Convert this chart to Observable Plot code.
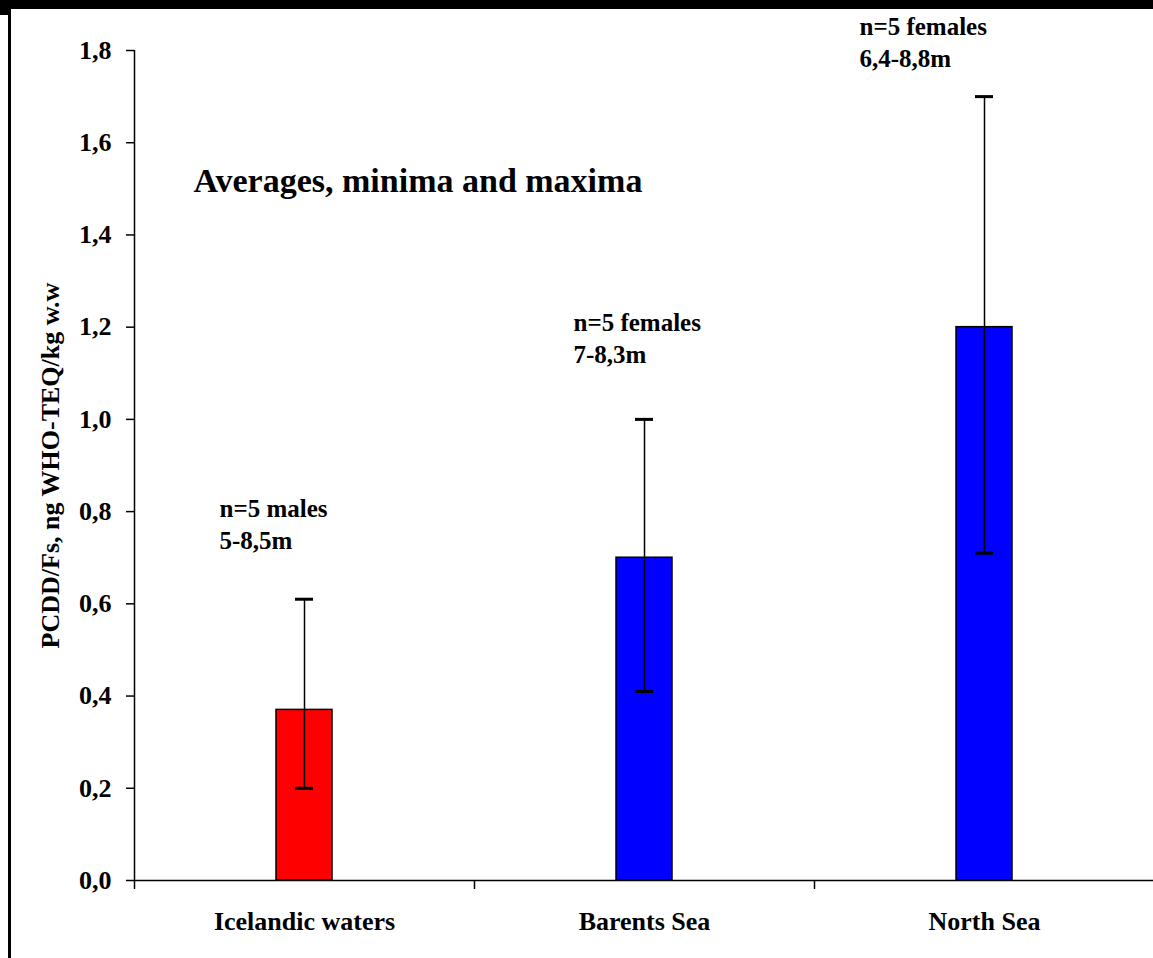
<!DOCTYPE html>
<html><head><meta charset="utf-8">
<script src="https://cdn.jsdelivr.net/npm/d3@7"></script>
<script src="https://cdn.jsdelivr.net/npm/@observablehq/plot@0.6"></script>
<style>
html,body{margin:0;padding:0;background:#fff;overflow:hidden}
#wrap{position:relative;width:1153px;height:958px}
#wrap svg{position:absolute;left:0;top:0}
.deco{position:absolute;background:#000}
</style></head><body>
<div id="wrap">
  <div class="deco" style="left:0;top:0;width:1153px;height:9px"></div>
  <div class="deco" style="left:0;top:9px;width:9px;height:6px"></div>
  <div class="deco" style="left:8px;top:0;width:3px;height:958px"></div>
</div>
<script>
const categories = ["Icelandic waters", "Barents Sea", "North Sea"];
const averages = [0.37, 0.70, 1.20];
const minima = [0.20, 0.41, 0.71];
const maxima = [0.61, 1.00, 1.70];
const barColors = ["#ff0000", "#0000ff", "#0000ff"];
const yTicks = [0, 0.2, 0.4, 0.6, 0.8, 1.0, 1.2, 1.4, 1.6, 1.8];
const noteLines = [["n=5 males", "5-8,5m"], ["n=5 females", "7-8,3m"], ["n=5 females", "6,4-8,8m"]];
const noteLevels = [0.72, 1.123, 1.765];
const title = "Averages, minima and maxima";
const yLabel = "PCDD/Fs, ng WHO-TEQ/kg w.w";

const rows = categories.map((c, i) => ({
  cat: c, avg: averages[i], min: minima[i], max: maxima[i],
  color: barColors[i], note: noteLines[i].join("\n"), level: noteLevels[i]
}));
const fmt = d => d.toFixed(1).replace(".", ",");
const FONT = "'Liberation Serif', 'Times New Roman', serif";
const noteDx = [-85, -71, -125];

const chart = Plot.plot({
  width: 1153, height: 958,
  marginLeft: 134, marginRight: 0, marginTop: 50, marginBottom: 78,
  style: {fontFamily: FONT, fontWeight: "bold", background: "transparent", color: "#000", overflow: "visible"},
  x: {domain: categories, range: [134, 1155], paddingInner: 0.835, paddingOuter: 0.4177, label: null},
  y: {domain: [0, 1.8], range: [880, 50], label: null},
  color: {type: "identity"},
  marks: [
    Plot.barY(rows, {x: "cat", y: "avg", fill: "color", stroke: "#000", strokeWidth: 1.5}),
    Plot.ruleX(rows, {x: "cat", y1: "min", y2: "max", stroke: "#000", strokeWidth: 1.5}),
    Plot.tickY(rows, {x: "cat", y: "min", stroke: "#000", strokeWidth: 3, insetLeft: 19, insetRight: 19}),
    Plot.tickY(rows, {x: "cat", y: "max", stroke: "#000", strokeWidth: 3, insetLeft: 19, insetRight: 19}),
    Plot.ruleY([0], {stroke: "#000", strokeWidth: 1.5}),
    Plot.ruleX([categories[0]], {x: d => d, y1: 0, y2: 1.8, dx: -170, stroke: "#000", strokeWidth: 1.5}),
    Plot.ruleX(categories, {x: d => d, y1: 0, y2: 0, dx: -170, insetBottom: -9, stroke: "#000", strokeWidth: 1.5}),
    Plot.axisY({ticks: yTicks, tickFormat: fmt, tickSize: 8, tickPadding: 15, fontSize: 26, fontWeight: "bold", strokeWidth: 1.5}),
    Plot.axisX({tickSize: 0, tickPadding: 31, fontSize: 26, fontWeight: "bold"}),
    ...rows.map((r, i) => Plot.text([r], {x: "cat", y: "level", text: "note", textAnchor: "start", lineAnchor: "bottom", lineHeight: 1.27, fontSize: 25, fontWeight: "bold", dx: noteDx[i]})),
    Plot.text([title], {frameAnchor: "top-left", dx: 59, dy: 141, textAnchor: "start", lineAnchor: "bottom", fontSize: 34, fontWeight: "bold"}),
    Plot.text([yLabel], {frameAnchor: "left", rotate: -90, dx: -76, textAnchor: "middle", lineAnchor: "bottom", fontSize: 26, fontWeight: "bold"})
  ]
});
document.getElementById("wrap").prepend(chart);
</script>
</body></html>
